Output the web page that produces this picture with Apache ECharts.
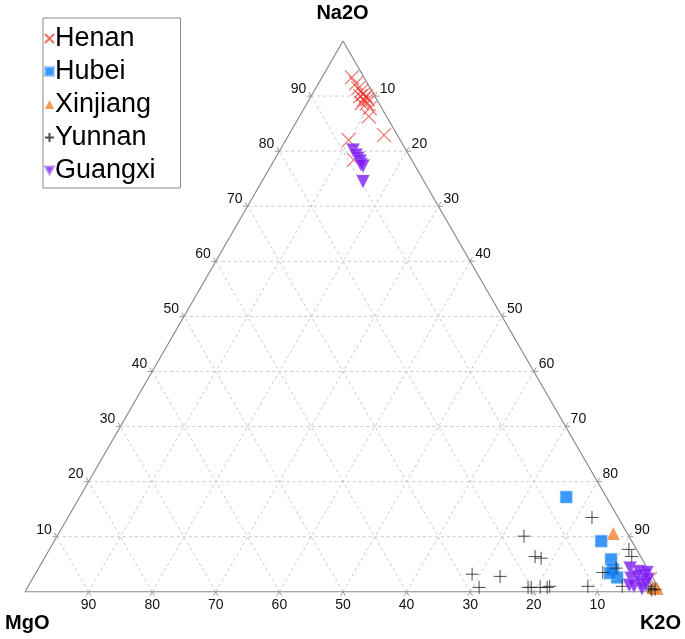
<!DOCTYPE html>
<html><head><meta charset="utf-8">
<script src="https://cdn.jsdelivr.net/npm/echarts@6/dist/echarts.min.js"></script>
<style>html,body{margin:0;padding:0;background:#fff}#c{width:685px;height:639px}</style>
</head><body><div id="c"></div>
<script>
// Corner titles: top, bottom-left, bottom-right
const cornerTitles = ['Na2O', 'MgO', 'K2O'];
const tickValues = [10, 20, 30, 40, 50, 60, 70, 80, 90];
const seriesNames = ['Henan', 'Hubei', 'Xinjiang', 'Yunnan', 'Guangxi'];

// Compositions as [MgO, Na2O, K2O]
const henan = [
  [1.9, 93.4, 4.7], [1.8, 92.3, 5.9], [1.9, 91.4, 6.7], [1.7, 90.9, 7.4],
  [1.7, 90.3, 8.0], [1.4, 90.0, 8.6], [2.3, 90.0, 7.7], [2.0, 89.4, 8.6],
  [1.4, 89.4, 9.2], [1.9, 88.7, 9.4], [2.7, 88.7, 8.6], [1.9, 87.8, 10.3],
  [2.8, 86.3, 10.9], [2.1, 82.9, 15.0], [8.1, 82.0, 9.9], [9.1, 78.4, 12.5],
  [0.6, 2.3, 97.1]
];
const hubei = [
  [6.3, 17.2, 76.5], [4.8, 9.2, 86.0], [4.9, 5.9, 89.2],
  [5.5, 4.1, 90.4], [5.6, 2.6, 91.8], [6.3, 3.4, 90.3]
];
const xinjiang = [
  [2.2, 10.6, 87.2], [0.3, 0.6, 99.1], [0.9, 0.8, 98.3]
];
const yunnan = [
  [28.1, 3.2, 68.7], [28.2, 0.8, 71.0], [23.9, 2.8, 73.3], [16.5, 10.1, 73.4],
  [16.6, 6.4, 77.0], [15.8, 6.1, 78.1], [20.5, 0.8, 78.7], [20.0, 0.8, 79.2],
  [18.6, 0.8, 80.6], [17.5, 0.8, 81.7], [17.0, 1.0, 82.0], [11.0, 1.0, 88.0],
  [4.1, 13.5, 82.4], [7.4, 3.5, 89.1], [4.9, 4.3, 90.8], [5.6, 1.0, 93.4],
  [1.2, 7.7, 91.1], [1.4, 6.4, 92.2], [1.4, 0.6, 98.0], [1.3, 0.3, 98.4],
  [0.7, 0.45, 98.85], [1.5, 1.0, 97.5]
];
const guangxi = [
  [8.3, 80.2, 11.5], [8.3, 79.3, 12.4], [8.3, 78.7, 13.0], [8.2, 78.2, 13.6],
  [8.4, 77.6, 14.0], [8.2, 77.3, 14.5], [9.6, 74.5, 15.9],
  [2.7, 4.3, 93.0], [3.5, 2.45, 94.05], [4.4, 1.2, 94.4], [3.75, 1.0, 95.25],
  [2.4, 2.8, 94.8], [1.6, 3.7, 94.7], [2.3, 1.7, 96.0], [2.7, 0.6, 96.7],
  [1.2, 3.0, 95.8], [1.7, 1.4, 96.9], [0.45, 3.5, 96.05], [0.9, 2.3, 96.8]
];

const SQ = Math.sqrt(3) / 2;
function toXY(p) {
  const s = p[0] + p[1] + p[2];
  const n = p[1] / s, k = p[2] / s;
  return [k + n / 2, n * SQ];
}

// grid line segments (ternary endpoints -> cartesian data)
const gridSegs = [];
tickValues.forEach(v => {
  const a1 = toXY([100 - v, v, 0]), a2 = toXY([0, v, 100 - v]);
  const b1 = toXY([100 - v, 0, v]), b2 = toXY([0, 100 - v, v]);
  const c1 = toXY([v, 0, 100 - v]), c2 = toXY([v, 100 - v, 0]);
  gridSegs.push([a1[0], a1[1], a2[0], a2[1]]);
  gridSegs.push([b1[0], b1[1], b2[0], b2[1]]);
  gridSegs.push([c1[0], c1[1], c2[0], c2[1]]);
});
// tick points: [x, y, value, side] side 0=bottom(MgO),1=left(Na2O),2=right(K2O)
const tickPts = [];
tickValues.forEach(v => {
  const b = toXY([v, 0, 100 - v]); tickPts.push([b[0], b[1], v, 0]);
  const l = toXY([100 - v, v, 0]); tickPts.push([l[0], l[1], v, 1]);
  const r = toXY([0, 100 - v, v]); tickPts.push([r[0], r[1], v, 2]);
});
const tri = [toXY([100, 0, 0]), toXY([0, 0, 100]), toXY([0, 100, 0]), toXY([100, 0, 0])];

const FONT = 'Liberation Sans, Arial, Helvetica, sans-serif';
const chart = echarts.init(document.getElementById('c'), null, { renderer: 'canvas' });

function scatter(name, data, symbol, size, itemStyle, extra) {
  return Object.assign({
    name, type: 'scatter', data: data.map(toXY), symbol, symbolSize: size,
    itemStyle, silent: true, z: 5
  }, extra || {});
}

const K = 4.5;
chart.setOption({
  animation: false,
  backgroundColor: '#fff',
  grid: { left: 25, top: 41, width: 636, height: 550.8 },
  xAxis: { type: 'value', min: 0, max: 1, show: false },
  yAxis: { type: 'value', min: 0, max: SQ, show: false },
  legend: {
    data: seriesNames, orient: 'vertical', left: 43, top: 18,
    itemWidth: 9, itemHeight: 9, itemGap: 6,
    padding: [7, 25, 4, 1], borderColor: '#888', borderWidth: 1,
    textStyle: { fontSize: 27, color: '#000', fontFamily: FONT, padding: [0, 0, 0, -4] },
    selectedMode: false
  },
  graphic: [
    { type: 'text', left: 'center', top: 3, style: { text: cornerTitles[0], font: 'bold 20px ' + FONT, fill: '#000' } },
    { type: 'text', left: 5, top: 613, style: { text: cornerTitles[1], font: 'bold 20px ' + FONT, fill: '#000' } },
    { type: 'text', right: 4, top: 613, style: { text: cornerTitles[2], font: 'bold 20px ' + FONT, fill: '#000' } }
  ],
  series: [
    {
      type: 'custom', silent: true, z: 1, data: gridSegs, encode: { x: [0, 2], y: [1, 3] },
      renderItem(params, api) {
        const p1 = api.coord([api.value(0), api.value(1)]);
        const p2 = api.coord([api.value(2), api.value(3)]);
        return { type: 'line', shape: { x1: p1[0], y1: p1[1], x2: p2[0], y2: p2[1] },
          style: { stroke: '#c9c9c9', lineWidth: 1, lineDash: [3, 3] } };
      }
    },
    {
      type: 'line', silent: true, z: 2, data: tri, symbol: 'none',
      lineStyle: { color: '#8a8a8a', width: 1.2 }
    },
    {
      type: 'custom', silent: true, z: 3, data: tickPts, encode: { x: 0, y: 1 },
      renderItem(params, api) {
        const p = api.coord([api.value(0), api.value(1)]);
        const v = api.value(2), side = api.value(3);
        let d1, d2, tx, ty, align;
        if (side === 0) { d1 = [-0.5, SQ]; d2 = [0.5, SQ]; tx = p[0]; ty = p[1] + 6; align = 'center'; }
        else if (side === 1) { d1 = [-1, 0]; d2 = [-0.5, -SQ]; tx = p[0] - 5; ty = p[1] - 14; align = 'right'; }
        else { d1 = [1, 0]; d2 = [0.5, -SQ]; tx = p[0] + 5; ty = p[1] - 14; align = 'left'; }
        return { type: 'group', children: [
          { type: 'line', shape: { x1: p[0], y1: p[1], x2: p[0] + d1[0] * K, y2: p[1] + d1[1] * K }, style: { stroke: '#999', lineWidth: 1 } },
          { type: 'line', shape: { x1: p[0], y1: p[1], x2: p[0] + d2[0] * K, y2: p[1] + d2[1] * K }, style: { stroke: '#999', lineWidth: 1 } },
          { type: 'text', style: { text: String(v), x: tx, y: ty, align: align, verticalAlign: 'top', fill: '#111', font: '14px ' + FONT } }
        ] };
      }
    },
    scatter('Henan', henan, 'path://M0,0L10,10M10,0L0,10', 14,
      { color: 'rgba(0,0,0,0)', borderColor: 'rgba(232,40,30,0.85)', borderWidth: 1.1 }),
    scatter('Hubei', hubei, 'rect', 12, { color: '#0a7ef5', borderColor: '#8fc3f5', borderWidth: 0.6 }),
    scatter('Xinjiang', xinjiang, 'triangle', 13, { color: '#f5822f' }),
    scatter('Yunnan', yunnan, 'path://M5,0L5,10M0,5L10,5', 13,
      { color: 'rgba(0,0,0,0)', borderColor: '#1e1e1e', borderWidth: 1 }),
    scatter('Guangxi', guangxi, 'path://M0,0L10,0L5,8.66Z', 13, { color: '#7d1cf2', borderColor: '#b28af0', borderWidth: 0.5 })
  ]
});
</script></body></html>
